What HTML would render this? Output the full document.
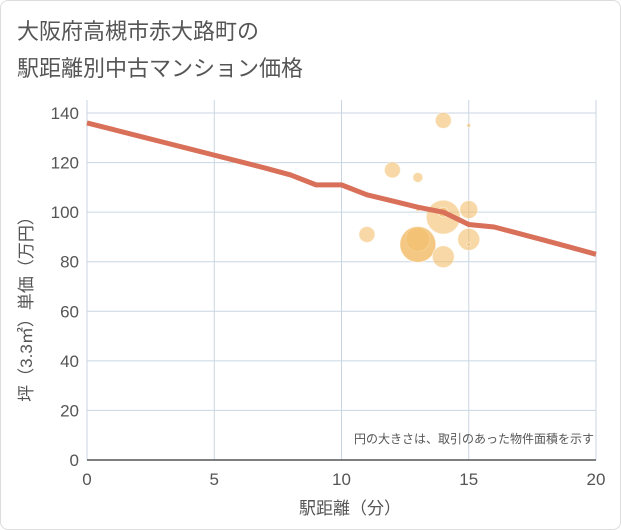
<!DOCTYPE html>
<html><head><meta charset="utf-8"><style>
body{margin:0;background:#fff;font-family:"Liberation Sans","Noto Sans CJK JP",sans-serif;}
#wrap{position:relative;width:619px;height:528px;border:1px solid #ddd;border-radius:8px;}
.t{position:absolute;left:16px;color:#555;font-size:22px;}
</style></head><body>
<div id="wrap">
<div class="t" style="top:13px">大阪府高槻市赤大路町の</div>
<div class="t" style="top:50px">駅距離別中古マンション価格</div>
<svg id="c" width="621" height="530" style="position:absolute;left:-1px;top:-1px"></svg>
</div>
<script>
const xTicks=[0,5,10,15,20];
const yTicks=[0,20,40,60,80,100,120,140];
const lineX=[0,1,2,3,4,5,6,7,8,9,10,11,12,13,14,15,16,17,18,19,20];
const lineY=[136,133.4,130.8,128.2,125.6,123,120.4,117.8,115,111,111,107,104.5,102,100,95,94,91.3,88.6,85.8,83];
const bubX=[13,14,15,12,13,14,15,11,13,13,15,14,14,15,13];
const bubY=[87,98,135,117,114,137,101,91,89,87,89,82,100,87,101];
const bubR=[18,17,2,8,5,8,9,8,12,18,11,11,5,2,2];
const NS="http://www.w3.org/2000/svg";
const svg=document.getElementById('c');
const X=v=>87+v*(596-87)/20, Y=v=>460-v*(460-113)/140;
function mk(t,a,p){const e=document.createElementNS(NS,t);for(const k in a)e.setAttribute(k,a[k]);(p||svg).appendChild(e);return e;}
mk('rect',{x:87,y:100,width:509,height:360,fill:'#fff'});
yTicks.forEach(v=>{
 const l=mk('line',{x1:87,x2:596,y1:Y(v),y2:Y(v),stroke:'#c9d6e2','stroke-width':1});
 
 const t=mk('text',{x:79,y:Y(v)+6,'text-anchor':'end','font-size':17,fill:'#555'});t.textContent=v;
 
});
xTicks.forEach(v=>{
 const l=mk('line',{x1:X(v),x2:X(v),y1:100,y2:460,stroke:'#c9d6e2','stroke-width':1});
 
 const t=mk('text',{x:X(v),y:485,'text-anchor':'middle','font-size':17,fill:'#555'});t.textContent=v;
 
});
mk('line',{x1:87,x2:596,y1:460,y2:460,stroke:'#555','stroke-width':1.5});
bubX.forEach((v,i)=>{
 const c=mk('circle',{cx:X(v),cy:Y(bubY[i]),r:bubR[i],fill:'#f2be6a','fill-opacity':0.6,stroke:'#fff','stroke-opacity':0.5});
 
});
const p=mk('polyline',{points:lineX.map((v,i)=>X(v)+','+Y(lineY[i])).join(' '),fill:'none',stroke:'#d9705a','stroke-width':5,'stroke-linejoin':'round'});

const n=mk('text',{x:594,y:443,'text-anchor':'end','font-size':12,fill:'#555'});n.textContent='円の大きさは、取引のあった物件面積を示す';

const xt=mk('text',{x:350,y:514,'text-anchor':'middle','font-size':17,fill:'#555'});xt.textContent='駅距離（分）';

const yt=mk('text',{x:0,y:0,'text-anchor':'middle','font-size':17,fill:'#555',transform:'translate(32,305) rotate(-90)'});yt.textContent='坪（3.3㎡）単価（万円）';

</script>
</body></html>
